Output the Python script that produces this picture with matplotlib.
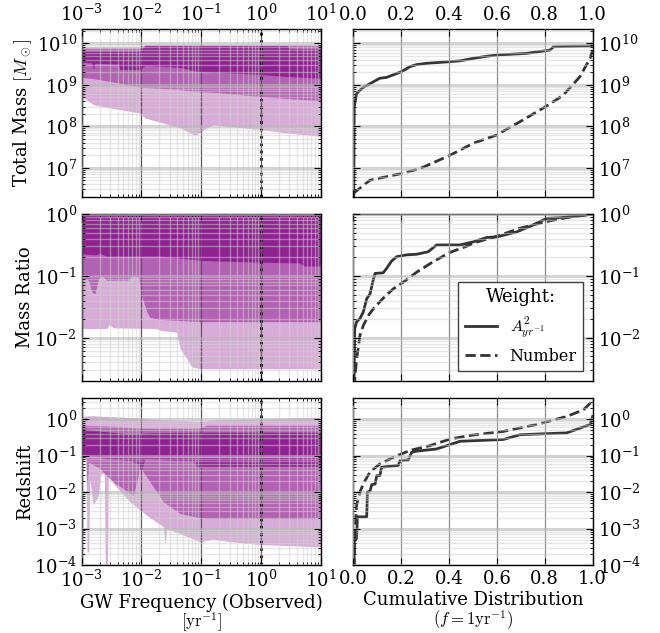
import matplotlib
matplotlib.use('Agg')
import matplotlib.pyplot as plt
import numpy as np

# ---- left column: percentile bands vs observed GW frequency (log10 values)
# total mass [log10 Msun]
mass_lf_light = [-3.0, -2.8, -2.36, -2.02, -1.94, -1.35, -1.10, -0.96, -0.80, 0.0, 0.44, 1.0]
mass_light_lo = [8.72, 8.52, 8.40, 8.32, 8.20, 7.96, 7.78, 7.92, 8.04, 7.92, 7.84, 7.76]
mass_light_hi = [9.93, 9.93, 9.93, 9.93, 9.97, 9.97, 9.97, 9.97, 9.97, 9.97, 9.97, 9.97]
mass_lf_med = [-3.0, -2.8, -2.36, -2.02, -1.94, -1.35, -1.10, -0.80, 0.0, 0.44, 1.0]
mass_med_lo = [9.18, 9.15, 9.04, 8.94, 8.94, 8.88, 8.84, 8.82, 8.72, 8.67, 8.62]
mass_med_hi = [9.88, 9.88, 9.88, 9.88, 9.96, 9.96, 9.96, 9.96, 9.96, 9.96, 9.96]
mass_lf_dark = [-3.0, -2.83, -2.805, -2.78, -2.75, -2.39, -2.36, -2.02, -1.94, -1.35, -1.10,
                -0.80, 0.0, 0.43, 0.49, 1.0]
mass_dark_lo = [9.55, 9.53, 9.37, 9.52, 9.52, 9.50, 9.37, 9.37, 9.47, 9.42, 9.33,
                9.31, 9.25, 9.20, 9.20, 9.16]
mass_dark_hi = [9.81, 9.81, 9.81, 9.81, 9.81, 9.81, 9.81, 9.81, 9.95, 9.95, 9.95,
                9.95, 9.95, 9.95, 9.87, 9.87]

# mass ratio [log10 q]
ratio_lf_light = [-3.0, -2.58, -2.54, -2.47, -1.75, -1.69, -1.41, -1.35, -1.24, -1.16, -1.00, 1.0]
ratio_light_lo = [-1.85, -1.85, -1.79, -1.84, -1.85, -1.88, -1.91, -2.18, -2.34, -2.47, -2.50, -2.50]
ratio_lf_med = [-3.0, -2.89, -2.83, -2.78, -2.72, -2.67, -2.58, -2.22, -2.16, -2.05, -2.00,
                -1.91, -1.86, -1.72, -1.41, -1.00, 1.0]
ratio_med_lo = [-1.02, -1.07, -1.26, -1.29, -1.05, -0.99, -1.07, -1.07, -0.99, -1.02, -1.32,
                -1.58, -1.67, -1.70, -1.72, -1.74, -1.74]
ratio_lf_dark = [-3.0, -2.78, -2.69, -2.58, -1.70, -1.00, 0.0, 0.65, 0.71, 1.0]
ratio_dark_lo = [-0.64, -0.66, -0.64, -0.68, -0.68, -0.75, -0.78, -0.79, -0.84, -0.84]

# redshift [log10 z]
z_lf_light = [-3.0, -2.927, -2.911, -2.883, -2.866, -2.805, -2.721, -2.682, -2.621, -2.604,
              -2.570, -2.554, -2.470, -2.191, -1.912, -1.633, -1.605, -1.577, -1.354, -1.019,
              -0.796, -0.517, 0.0, 1.0]
z_light_lo = [-1.0, -1.09, -3.64, -3.64, -1.64, -2.36, -2.09, -1.5, -1.5, -4.2,
              -4.2, -1.41, -1.77, -2.27, -2.64, -2.95, -3.45, -3.0, -3.14, -3.36,
              -3.29, -3.36, -3.44, -3.50]
z_light_hi = [0.07, 0.08, 0.08, 0.09, 0.09, 0.09, 0.08, 0.08, 0.07, 0.07,
              0.07, 0.07, 0.06, 0.04, 0.01, -0.02, -0.02, -0.02, -0.04, -0.07,
              -0.02, -0.01, 0.0, 0.05]
z_lf_med = [-3.0, -2.927, -2.911, -2.883, -2.693, -2.582, -2.470, -2.302, -2.135, -2.052,
            -2.024, -1.912, -1.633, -1.354, -1.019, -0.908, 1.0]
z_med_lo = [-1.0, -1.09, -1.82, -1.18, -1.36, -1.55, -1.73, -1.91, -2.09, -1.55,
            -1.32, -1.59, -2.27, -2.59, -2.71, -2.72, -2.73]
z_med_hi = [-0.16, -0.16, -0.17, -0.17, -0.18, -0.19, -0.20, -0.22, -0.24, -0.25,
            -0.25, -0.25, -0.25, -0.25, -0.25, -0.16, -0.16]
z_lf_dark = [-3.0, -2.582, -2.191, -2.052, -2.010, -1.940, -1.131, -1.075, 1.0]
z_dark_lo = [-0.95, -1.09, -1.14, -1.23, -1.45, -1.09, -1.16, -1.32, -1.32]
z_dark_hi = [-0.27, -0.35, -0.41, -0.40, -0.40, -0.38, -0.36, -0.36, -0.36]

# ---- right column: cumulative distributions at f = 1/yr
mass_cum_a2 = [0.002, 0.004, 0.014, 0.028, 0.042, 0.070, 0.111, 0.139, 0.202, 0.237, 0.265,
               0.306, 0.404, 0.446, 0.501, 0.557, 0.599, 0.724, 0.822, 0.836, 0.995, 1.0]
mass_val_a2 = [6.2, 8.47, 8.79, 8.87, 8.94, 9.03, 9.16, 9.18, 9.32, 9.44, 9.49,
               9.52, 9.56, 9.58, 9.64, 9.69, 9.72, 9.76, 9.84, 9.92, 9.94, 10.0]
mass_cum_num = [0.0, 0.070, 0.202, 0.279, 0.404, 0.501, 0.599, 0.696, 0.808, 0.877, 0.947, 0.989, 1.0]
mass_val_num = [6.38, 6.70, 6.86, 6.98, 7.30, 7.59, 7.79, 8.11, 8.49, 8.75, 9.20, 9.64, 9.84]

ratio_cum_a2 = [0.003, 0.006, 0.014, 0.028, 0.042, 0.056, 0.070, 0.081, 0.091, 0.125, 0.139,
                0.160, 0.181, 0.223, 0.265, 0.313, 0.348, 0.446, 0.501, 0.557, 0.599, 0.682,
                0.738, 0.808, 0.864, 0.947, 1.0]
ratio_val_a2 = [-2.8, -1.85, -1.74, -1.69, -1.58, -1.37, -1.29, -1.10, -0.96, -0.95, -0.88,
                -0.76, -0.69, -0.66, -0.65, -0.61, -0.50, -0.50, -0.45, -0.38, -0.37, -0.29,
                -0.20, -0.07, -0.06, -0.03, 0.0]
ratio_cum_num = [0.003, 0.014, 0.028, 0.042, 0.063, 0.084, 0.125, 0.167, 0.209, 0.265, 0.334,
                 0.404, 0.474, 0.501, 0.599, 0.696, 0.808, 0.919, 1.0]
ratio_val_num = [-2.8, -2.34, -1.96, -1.80, -1.64, -1.53, -1.36, -1.21, -1.10, -0.94, -0.77,
                 -0.62, -0.52, -0.47, -0.36, -0.23, -0.12, -0.04, 0.0]

z_cum_a2 = [0.003, 0.004, 0.014, 0.017, 0.056, 0.059, 0.070, 0.077, 0.091, 0.098, 0.111,
            0.118, 0.188, 0.195, 0.230, 0.244, 0.265, 0.348, 0.404, 0.446, 0.627, 0.696,
            0.891, 0.947, 0.989, 1.0]
z_val_a2 = [-4.1, -3.36, -3.27, -2.68, -2.68, -2.0, -1.97, -1.80, -1.78, -1.55, -1.55,
            -1.32, -1.27, -1.14, -1.12, -0.91, -0.88, -0.82, -0.70, -0.61, -0.56, -0.43,
            -0.38, -0.25, -0.15, 0.07]
z_cum_num = [0.003, 0.007, 0.014, 0.028, 0.042, 0.070, 0.111, 0.167, 0.237, 0.320, 0.404,
             0.487, 0.627, 0.766, 0.891, 0.961, 1.0]
z_val_num = [-4.1, -3.18, -2.36, -2.0, -1.77, -1.45, -1.23, -1.05, -0.86, -0.73, -0.55,
             -0.45, -0.34, -0.15, 0.07, 0.25, 0.50]

row_labels = ['Total Mass $[M_\\odot]$', 'Mass Ratio', 'Redshift']
row_ylims = [(2.0e6, 2.2e10), (2.0e-3, 1.0), (1.0e-4, 3.7)]

c_light = '#d8acd8'
c_med = '#b262b2'
c_dark = '#8e2290'
c_line = '#333333'

plt.rcParams['font.family'] = 'serif'
plt.rcParams['font.serif'] = ['DejaVu Serif']
plt.rcParams['mathtext.fontset'] = 'cm'
plt.rcParams['font.size'] = 13


def p10(a):
    return 10.0 ** np.array(a)


def style_grid(ax, vcolor):
    ax.set_axisbelow(False)
    ax.grid(True, which='minor', color='0.82', lw=1.0, alpha=0.5)
    ax.grid(True, which='major', axis='y', color='0.72', lw=2.2, alpha=0.6)
    ax.grid(True, which='major', axis='x', color=vcolor, lw=0.9)


fig = plt.figure(figsize=(6.6, 6.33), dpi=100)
bottoms = [0.6893, 0.3981, 0.1074]
heights = [0.2645, 0.2638, 0.2634]
left_axes = []
right_axes = []
for i in range(3):
    axl = fig.add_axes([0.1238, bottoms[i], 0.3621, heights[i]])
    axr = fig.add_axes([0.5353, bottoms[i], 0.3627, heights[i]])
    left_axes.append(axl)
    right_axes.append(axr)

# left: bands
ax = left_axes[0]
ax.fill_between(p10(mass_lf_light), p10(mass_light_lo), p10(mass_light_hi), color=c_light, lw=0)
ax.fill_between(p10(mass_lf_med), p10(mass_med_lo), p10(mass_med_hi), color=c_med, lw=0)
ax.fill_between(p10(mass_lf_dark), p10(mass_dark_lo), p10(mass_dark_hi), color=c_dark, lw=0)

ax = left_axes[1]
ax.fill_between(p10(ratio_lf_light), p10(ratio_light_lo), 1.0, color=c_light, lw=0)
ax.fill_between(p10(ratio_lf_med), p10(ratio_med_lo), 1.0, color=c_med, lw=0)
ax.fill_between(p10(ratio_lf_dark), p10(ratio_dark_lo), 1.0, color=c_dark, lw=0)

ax = left_axes[2]
ax.fill_between(p10(z_lf_light), p10(z_light_lo), p10(z_light_hi), color=c_light, lw=0)
ax.fill_between(p10(z_lf_med), p10(z_med_lo), p10(z_med_hi), color=c_med, lw=0)
ax.fill_between(p10(z_lf_dark), p10(z_dark_lo), p10(z_dark_hi), color=c_dark, lw=0)

# right: cumulative distributions
right_data = [(mass_cum_a2, mass_val_a2, mass_cum_num, mass_val_num),
              (ratio_cum_a2, ratio_val_a2, ratio_cum_num, ratio_val_num),
              (z_cum_a2, z_val_a2, z_cum_num, z_val_num)]
for i, (xa, ya, xn, yn) in enumerate(right_data):
    ax = right_axes[i]
    ax.plot(xa, p10(ya), color=c_line, lw=2.0, ls='-', label='$A^2_{yr^{-1}}$')
    ax.plot(xn, p10(yn), color=c_line, lw=2.0, ls='--', label='Number')

for i in range(3):
    axl = left_axes[i]
    axr = right_axes[i]
    axl.set_xscale('log')
    axl.set_yscale('log')
    axl.set_xlim(1e-3, 10)
    axl.set_ylim(*row_ylims[i])
    axl.axvline(1.0, color='k', ls=':', lw=2.0)
    style_grid(axl, '0.35')
    axl.set_ylabel(row_labels[i], fontsize=13)
    axl.yaxis.set_label_coords(-0.20, 0.5)

    axr.set_yscale('log')
    axr.set_xlim(0.0, 1.0)
    axr.set_ylim(*row_ylims[i])
    axr.set_xticks([0.0, 0.2, 0.4, 0.6, 0.8, 1.0])
    style_grid(axr, '0.55')

    for ax in (axl, axr):
        ax.tick_params(which='both', direction='in', top=True, right=True, labelsize=13)
        ax.tick_params(which='major', length=5)
        ax.tick_params(which='minor', length=2.5)
        for sp in ax.spines.values():
            sp.set_linewidth(1.0)
    axr.tick_params(labelleft=False, labelright=True)
    if i == 0:
        axl.tick_params(labeltop=True, labelbottom=False)
        axr.tick_params(labeltop=True, labelbottom=False)
    elif i == 1:
        axl.tick_params(labelbottom=False)
        axr.tick_params(labelbottom=False)

left_axes[2].set_xlabel('GW Frequency (Observed)', fontsize=13, labelpad=2)
left_axes[2].text(0.5, -0.345, '$[\\mathrm{yr}^{-1}]$', transform=left_axes[2].transAxes,
                  ha='center', va='center', fontsize=12)
right_axes[2].set_xlabel('Cumulative Distribution', fontsize=13, labelpad=2)
right_axes[2].text(0.5, -0.33, '$(f = 1\\mathrm{yr}^{-1})$', transform=right_axes[2].transAxes,
                   ha='center', va='center', fontsize=12)

leg = right_axes[1].legend(loc='lower right', title='Weight:', fontsize=11.5, fancybox=False,
                           framealpha=1.0, edgecolor='0.25', borderaxespad=0.6,
                           handlelength=2.0, title_fontsize=13)
leg.get_frame().set_linewidth(1.0)

plt.savefig('out.png', dpi=100)
